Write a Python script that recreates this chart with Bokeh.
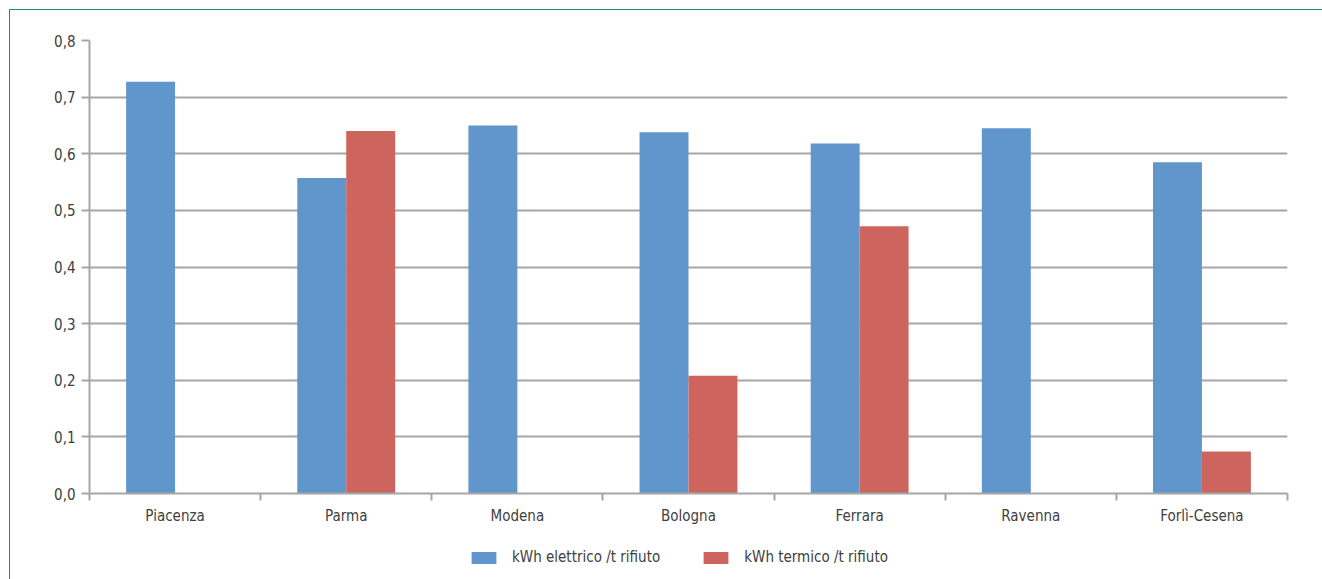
from bokeh.plotting import figure
from bokeh.layouts import column
from bokeh.models import ColumnDataSource, FixedTicker, Legend, LegendItem, Range1d
from bokeh.transform import dodge
from bokeh.embed import file_html
from bokeh.resources import INLINE

categories = ["Piacenza", "Parma", "Modena", "Bologna", "Ferrara", "Ravenna", "Forlì-Cesena"]
elettrico = [0.727, 0.557, 0.650, 0.638, 0.618, 0.645, 0.585]
termico = [0.0, 0.640, 0.0, 0.208, 0.472, 0.0, 0.074]
y_ticks = [0.0, 0.1, 0.2, 0.3, 0.4, 0.5, 0.6, 0.7, 0.8]
y_labels = ["0,0", "0,1", "0,2", "0,3", "0,4", "0,5", "0,6", "0,7", "0,8"]
series_names = ["kWh elettrico /t rifiuto", "kWh termico /t rifiuto"]
colors = ["#6096cb", "#cd655e"]

FONT = "DejaVu Sans Condensed"
TXT = "#404040"
GRID = "#a6a6a6"

xpos = [i + 0.5 for i in range(len(categories))]
src = ColumnDataSource(dict(x=xpos, el=elettrico, te=termico))

p = figure(width=1312, height=525, output_backend="svg", toolbar_location=None,
           x_range=Range1d(0, len(categories)), y_range=Range1d(0, 0.8),
           min_border_left=79, min_border_right=35, min_border_top=30, min_border_bottom=42)
p.outline_line_color = None

bw = 0.286
p.vbar(x=dodge("x", -bw / 2, range=p.x_range), top="el", width=bw, source=src,
       fill_color=colors[0], line_color=None)
p.vbar(x=dodge("x", bw / 2, range=p.x_range), top="te", width=bw, source=src,
       fill_color=colors[1], line_color=None)

# y axis
p.yaxis.ticker = FixedTicker(ticks=y_ticks)
p.yaxis.major_label_overrides = {t: l for t, l in zip(y_ticks, y_labels)}
p.yaxis.axis_line_color = GRID
p.yaxis.axis_line_width = 2
p.yaxis.major_tick_line_color = GRID
p.yaxis.major_tick_line_width = 2
p.yaxis.major_tick_in = 0
p.yaxis.major_tick_out = 8
p.yaxis.minor_tick_line_color = None
p.yaxis.major_label_text_font = FONT
p.yaxis.major_label_text_font_size = "15px"
p.yaxis.major_label_text_color = TXT
p.yaxis.major_label_standoff = 6

# x axis
p.xaxis.ticker = FixedTicker(ticks=xpos, minor_ticks=list(range(len(categories) + 1)))
p.xaxis.major_label_overrides = {x: c for x, c in zip(xpos, categories)}
p.xaxis.axis_line_color = GRID
p.xaxis.axis_line_width = 2
p.xaxis.major_tick_line_color = None
p.xaxis.major_tick_in = 0
p.xaxis.major_tick_out = 8
p.xaxis.minor_tick_line_color = GRID
p.xaxis.minor_tick_line_width = 2
p.xaxis.minor_tick_in = 0
p.xaxis.minor_tick_out = 7
p.xaxis.major_label_text_font = FONT
p.xaxis.major_label_text_font_size = "15px"
p.xaxis.major_label_text_color = TXT
p.xaxis.major_label_standoff = 5

p.xgrid.grid_line_color = None
p.ygrid.ticker = FixedTicker(ticks=y_ticks[1:])
p.ygrid.grid_line_color = GRID
p.ygrid.grid_line_width = 2

# legend strip (its renderers use the same data, drawn outside the strip's view)
lf = figure(width=1312, height=44, output_backend="svg", toolbar_location=None,
            x_range=Range1d(100, 101), y_range=Range1d(100, 101),
            min_border_left=0, min_border_right=0, min_border_top=0, min_border_bottom=0)
lf.axis.visible = False
lf.grid.visible = False
lf.outline_line_color = None
lr1 = lf.vbar(x="x", top="el", width=bw, source=src, fill_color=colors[0], line_color=None)
lr2 = lf.vbar(x="x", top="te", width=bw, source=src, fill_color=colors[1], line_color=None)

legend = Legend(items=[LegendItem(label=series_names[0], renderers=[lr1]),
                       LegendItem(label=series_names[1], renderers=[lr2])],
                orientation="horizontal", location=(379, 13),
                glyph_width=31, glyph_height=15, spacing=40, label_standoff=13,
                label_text_font=FONT, label_text_font_size="15px", label_text_color=TXT,
                border_line_color=None, background_fill_alpha=0, margin=0, padding=0)
lf.add_layout(legend, "center")

layout = column(p, lf, spacing=0,
                styles={"margin-left": "9px", "margin-top": "9px",
                        "border-top": "1px solid #1e9060", "border-left": "1px solid #1e9060"})

open("out.html", "w").write(file_html(layout, INLINE))
